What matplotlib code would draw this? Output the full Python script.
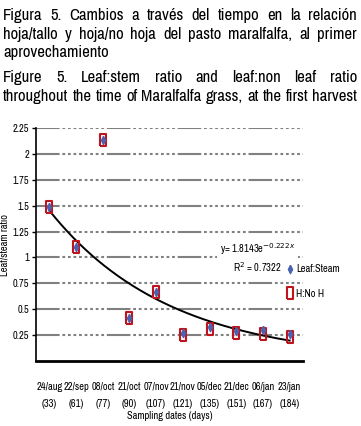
import numpy as np
import matplotlib
matplotlib.use("Agg")
import matplotlib.pyplot as plt
from matplotlib import font_manager

plt.rcParams['lines.scale_dashes'] = False

dates = ['24/aug', '22/sep', '08/oct', '21/oct', '07/nov',
         '21/nov', '05/dec', '21/dec', '06/jan', '23/jan']
days = [33, 61, 77, 90, 107, 121, 135, 151, 167, 184]
leaf_steam = [1.49, 1.10, 2.13, 0.42, 0.67, 0.27, 0.33, 0.29, 0.30, 0.26]
h_noh = [1.49, 1.10, 2.13, 0.42, 0.67, 0.25, 0.31, 0.27, 0.26, 0.23]
trend_a, trend_b = 1.8143, -0.222
yticks = [0.25, 0.5, 0.75, 1, 1.25, 1.5, 1.75, 2, 2.25]
ytick_labels = ['0.25', '0.5', '0.75', '1', '1.25', '1.5', '1.75', '2', '2.25']

title_lines = [
    ("Figura 5. Cambios a través del tiempo en la relación", True),
    ("hoja/tallo y hoja/no hoja del pasto maralfalfa, al primer", True),
    ("aprovechamiento", False),
    ("Figure 5. Leaf:stem ratio and leaf:non leaf ratio", True),
    ("throughout the time of Maralfalfa grass, at the first harvest", True),
]
title_base = [20, 39, 57, 82, 101]

W, H = 361, 426


def pick(cands):
    for c in cands:
        try:
            font_manager.findfont(font_manager.FontProperties(family=c), fallback_to_default=False)
            return c
        except Exception:
            pass
    return 'DejaVu Sans'


title_font = pick(['Liberation Sans Narrow', 'Arial Narrow', 'Archivo Narrow', 'Roboto Condensed',
                   'PT Sans Narrow', 'Liberation Sans'])
axis_font = pick(['Archivo Narrow', 'Roboto Condensed', 'PT Sans Narrow', 'Carlito', 'Liberation Sans'])
fs = 7.5

fig = plt.figure(figsize=(W / 100, H / 100), dpi=100)
ax = fig.add_axes([36 / W, 1 - 361 / H, (303 - 36) / W, (361 - 128) / H])

x = np.arange(1, len(dates) + 1)
rect = [(-0.55, -1), (0.55, -1), (0.55, 1), (-0.55, 1), (-0.55, -1)]
diam = [(0, 1), (0.5, 0), (0, -1), (-0.5, 0), (0, 1)]
l2, = ax.plot(x, h_noh, linestyle='none', marker=rect, markersize=8.5, markerfacecolor='none',
              markeredgecolor='#c0141c', markeredgewidth=1.5, label='H:No H', zorder=3)
l1, = ax.plot(x, leaf_steam, linestyle='none', marker=diam, markersize=6, color='#4a62b0',
              markeredgecolor='#4a62b0', label='Leaf:Steam', zorder=4)

xs = np.linspace(1, 10, 200)
ax.plot(xs, trend_a * np.exp(trend_b * xs), color='black', lw=1.4, zorder=2)

ax.set_xlim(0.5, 10.5)
ax.set_ylim(0, 2.25)
ax.set_yticks(yticks)
ax.set_yticklabels(ytick_labels, family=axis_font, fontsize=fs)
ax.set_xticks(x)
ax.set_xticklabels([f"{d}\n({n})" for d, n in zip(dates, days)], family=axis_font,
                   fontsize=fs, linespacing=1.85)
ax.tick_params(axis='x', length=0, pad=15)
ax.tick_params(axis='y', length=3, width=1, direction='out', pad=2)
ax.grid(axis='y', color='#808080', lw=1.5,
        linestyle=(0, (17, 2, 2, 2, 2, 2, 2, 2, 2, 2, 2, 2, 2, 2, 2, 2, 2, 2)))
ax.set_axisbelow(True)
for s in ['top', 'right']:
    ax.spines[s].set_visible(False)
ax.spines['left'].set_linewidth(1.2)
ax.spines['bottom'].set_linewidth(2)

ax.set_ylabel('Leaf/steam ratio', family=axis_font, fontsize=fs, fontweight='bold')
ax.yaxis.set_label_coords((10 - 36) / 267, 0.5)
ax.set_xlabel('Sampling dates (days)', family=axis_font, fontsize=fs, fontweight='bold')
ax.xaxis.set_label_coords(0.5, (361 - 411) / 233)

ax.text(8.8, 1.0, "y= 1.8143e$^{-0.222x}$\nR$^2$ = 0.7322", family=axis_font, fontsize=fs,
        ha='center', va='center', multialignment='center', linespacing=1.3,
        bbox=dict(facecolor='white', edgecolor='none', pad=2), zorder=5)

fig.legend([l1, l2], ['Leaf:Steam', 'H:No H'], loc='upper left',
           bbox_to_anchor=(276 / W, 1 - 255 / H), frameon=False,
           prop={'family': axis_font, 'size': fs}, handlelength=0.8, handletextpad=0.2,
           labelspacing=1.4)

# justified caption text, sized so the last line fills the width
r = fig.canvas.get_renderer()
x0, x1 = 3, 357
probe = fig.text(0, 0, title_lines[-1][0], fontsize=10, family=title_font)
tsize = 10 * (x1 - x0) / probe.get_window_extent(r).width
probe.remove()
sp = fig.text(0, 0, 'a a', fontsize=tsize, family=title_font)
sa = fig.text(0, 0, 'aa', fontsize=tsize, family=title_font)
space = sp.get_window_extent(r).width - sa.get_window_extent(r).width
sp.remove()
sa.remove()
for (line, just), yy in zip(title_lines, title_base):
    words = line.split()
    ts = [fig.text(0, 1 - yy / H, w, fontsize=tsize, family=title_font, va='baseline') for w in words]
    widths = [t.get_window_extent(r).width for t in ts]
    if just and len(words) > 1:
        gap = (x1 - x0 - sum(widths)) / (len(words) - 1)
    else:
        gap = space
    cx = x0
    for t, wd in zip(ts, widths):
        t.set_x(cx / W)
        cx += wd + gap

fig.savefig('out.png', dpi=100)
